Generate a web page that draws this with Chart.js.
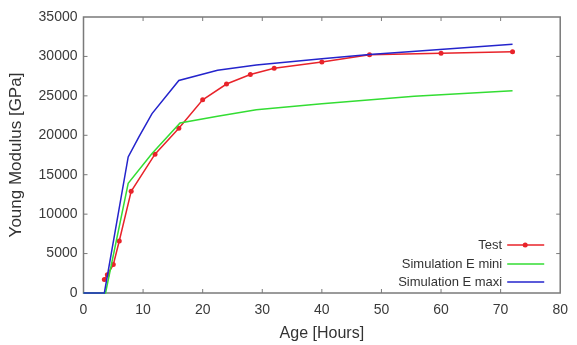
<!DOCTYPE html>
<html lang="en">
<head>
  <meta charset="UTF-8" />
  <title>Young Modulus vs Age</title>
  <script src="https://cdn.jsdelivr.net/npm/chart.js"></script>
  <style>
    html, body { margin: 0; padding: 0; background: #fff; }
    .chart-wrapper { width: 577px; height: 345px; position: relative; }
  </style>
</head>
<body>

<div class="chart-wrapper">
  <canvas id="modulusChart"></canvas>
</div>

<script>
  // measured test points
  const testAge = [3.5, 4, 5, 6, 8, 12, 16, 20, 24, 28, 32, 40, 48, 60, 72];
  const testE = [1700, 2300, 3600, 6600, 12900, 17600, 20900, 24500, 26500, 27700, 28500, 29300, 30200, 30400, 30600];

  // simulation, E mini
  const miniAge = [0, 3.7, 7.5, 11.5, 16.2, 22.5, 29, 40, 55.5, 72];
  const miniE = [0, 0, 13900, 17700, 21550, 22400, 23250, 24000, 24950, 25650];

  // simulation, E maxi
  const maxiAge = [0, 3.5, 7.5, 9.3, 11.5, 16, 22.5, 29, 40, 48, 54, 72];
  const maxiE = [0, 0, 17250, 19800, 22750, 26950, 28250, 28900, 29700, 30250, 30550, 31550];

  const xTicks = [0, 10, 20, 30, 40, 50, 60, 70, 80];
  const yTicks = [0, 5000, 10000, 15000, 20000, 25000, 30000, 35000];

  const toXY = (xs, ys) => xs.map((x, i) => ({ x: x, y: ys[i] }));

  // frame round the plot with small inward tick marks (drawn under the lines)
  const framePlugin = {
    id: 'frame',
    beforeDatasetsDraw(chart) {
      const { ctx, chartArea: a, scales } = chart;
      ctx.save();
      ctx.strokeStyle = '#7a7a7a';
      ctx.lineWidth = 1.5;
      ctx.strokeRect(a.left, a.top, a.right - a.left, a.bottom - a.top);
      ctx.lineWidth = 1;
      ctx.beginPath();
      xTicks.slice(1, -1).forEach(v => {
        const px = scales.x.getPixelForValue(v);
        ctx.moveTo(px, a.bottom); ctx.lineTo(px, a.bottom - 4);
        ctx.moveTo(px, a.top); ctx.lineTo(px, a.top + 4);
      });
      yTicks.slice(1, -1).forEach(v => {
        const py = scales.y.getPixelForValue(v);
        ctx.moveTo(a.left, py); ctx.lineTo(a.left + 4, py);
        ctx.moveTo(a.right, py); ctx.lineTo(a.right - 4, py);
      });
      ctx.stroke();
      ctx.restore();
    }
  };

  // legend inside the plot, bottom right, text left of the sample line
  const insideLegend = {
    id: 'insideLegend',
    afterDraw(chart) {
      const { ctx, chartArea: a } = chart;
      const rows = [48, 29, 11];
      ctx.save();
      ctx.font = '13px "Liberation Sans", Arial, sans-serif';
      ctx.textAlign = 'right';
      ctx.textBaseline = 'middle';
      chart.data.datasets.forEach((ds, i) => {
        const y = a.bottom - rows[i];
        const textRight = a.right - 58;
        ctx.fillStyle = '#333';
        ctx.fillText(ds.label, textRight, y);
        ctx.strokeStyle = ds.borderColor;
        ctx.lineWidth = 1.5;
        ctx.beginPath();
        ctx.moveTo(textRight + 5, y);
        ctx.lineTo(textRight + 42, y);
        ctx.stroke();
        if (ds.pointRadius > 0) {
          ctx.fillStyle = ds.pointBackgroundColor;
          ctx.beginPath();
          ctx.arc(textRight + 23, y, ds.pointRadius, 0, Math.PI * 2);
          ctx.fill();
        }
      });
      ctx.restore();
    }
  };

  const fontFamily = '"Liberation Sans", Arial, sans-serif';

  const ctx = document.getElementById('modulusChart').getContext('2d');
  new Chart(ctx, {
    type: 'line',
    data: {
      datasets: [{
        label: 'Test',
        data: toXY(testAge, testE),
        borderColor: '#e8232a',
        pointBackgroundColor: '#e8232a',
        pointBorderWidth: 0,
        pointRadius: 2.5,
        borderWidth: 1.5,
        tension: 0,
        clip: false,
        order: 3
      }, {
        label: 'Simulation E mini',
        data: toXY(miniAge, miniE),
        borderColor: '#33dd33',
        pointRadius: 0,
        borderWidth: 1.5,
        tension: 0,
        clip: false,
        order: 2
      }, {
        label: 'Simulation E maxi',
        data: toXY(maxiAge, maxiE),
        borderColor: '#2424cc',
        pointRadius: 0,
        borderWidth: 1.5,
        tension: 0,
        clip: false,
        order: 1
      }]
    },
    options: {
      responsive: true,
      maintainAspectRatio: false,
      animation: false,
      layout: { padding: { top: 17, right: 9, left: 6, bottom: 0 } },
      scales: {
        x: {
          type: 'linear',
          min: 0, max: 80,
          afterBuildTicks: s => { s.ticks = xTicks.map(v => ({ value: v })); },
          afterFit: s => { s.height = 52; },
          grid: { display: false, drawTicks: false },
          border: { display: false },
          ticks: {
            padding: 9,
            color: '#3a3a3a',
            callback: v => String(v),
            font: { family: fontFamily, size: 14 }
          },
          title: {
            display: true,
            text: 'Age [Hours]',
            color: '#333',
            padding: { top: 0, bottom: 2 },
            font: { family: fontFamily, size: 16 }
          }
        },
        y: {
          type: 'linear',
          min: 0, max: 35000,
          afterBuildTicks: s => { s.ticks = yTicks.map(v => ({ value: v })); },
          afterFit: s => { s.width = 77.5; },
          grid: { display: false, drawTicks: false },
          border: { display: false },
          ticks: {
            padding: 6,
            color: '#3a3a3a',
            callback: v => String(v),
            font: { family: fontFamily, size: 14 }
          },
          title: {
            display: true,
            text: 'Young Modulus [GPa]',
            color: '#333',
            padding: { top: 0, bottom: 0 },
            font: { family: fontFamily, size: 17 }
          }
        }
      },
      plugins: {
        legend: { display: false },
        tooltip: { enabled: false }
      }
    },
    plugins: [framePlugin, insideLegend]
  });
</script>
</body>
</html>
